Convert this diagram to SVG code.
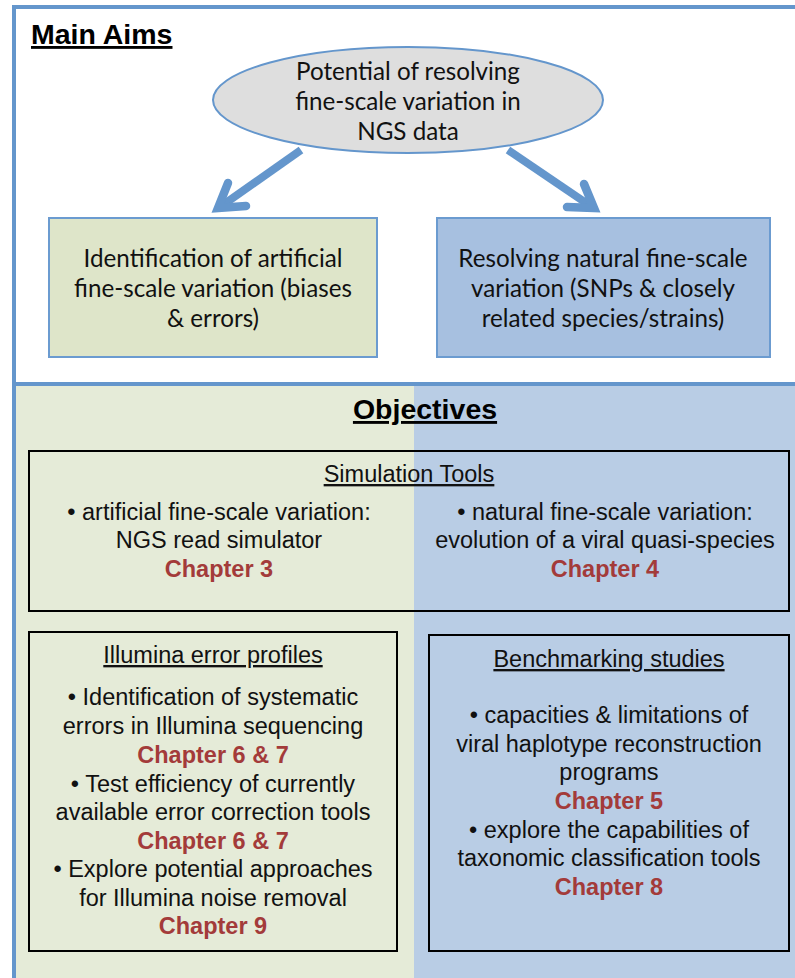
<svg xmlns="http://www.w3.org/2000/svg" width="795" height="978" viewBox="0 0 795 978">
<defs>
<style>
.cal{font-family:Lato,"Open Sans","Liberation Sans",sans-serif;font-size:24.2px;fill:#111;text-anchor:middle}
.ar{font-family:"Liberation Sans",Arial,sans-serif;font-size:23.5px;fill:#111;text-anchor:middle}
.ch{font-family:"Liberation Sans",Arial,sans-serif;font-size:23.5px;font-weight:bold;fill:#a33b3a;text-anchor:middle}
.hd{font-family:"Liberation Sans",Arial,sans-serif;font-size:28.5px;font-weight:bold;fill:#000;text-decoration:underline}
.sub{font-family:"Liberation Sans",Arial,sans-serif;font-size:23.5px;fill:#111;text-anchor:middle;text-decoration:underline}
.box{stroke:#000;stroke-width:2;fill:none}
.arrow{stroke:#6496cc;stroke-width:8;fill:none;stroke-linejoin:miter;stroke-miterlimit:10}
.head{stroke:#6496cc;stroke-width:8.5;fill:none;stroke-linejoin:miter;stroke-linecap:round;stroke-miterlimit:10}
</style>
</defs>
<g id="background">
<rect x="14" y="384" width="400" height="600" fill="#e5ebd8"/>
<rect x="414" y="384" width="385" height="600" fill="#b9cde5"/>
<line x1="12" y1="7" x2="795" y2="7" stroke="#6496cc" stroke-width="4"/>
<line x1="14" y1="5" x2="14" y2="978" stroke="#6496cc" stroke-width="4"/>
<line x1="12" y1="384" x2="795" y2="384" stroke="#6496cc" stroke-width="4"/>
<text class="hd" x="31" y="44">Main Aims</text>
<text class="hd" x="425" y="419" text-anchor="middle">Objectives</text>
</g>
<g id="connectors">
<path class="arrow" d="M301,150 L220,207"/>
<path class="head" d="M228,183 L218,208 L246,206"/>
<path class="arrow" d="M508,150 L592,207"/>
<path class="head" d="M584,184 L594,208 L567,207"/>
</g>
<g id="aim-root">
<ellipse cx="408" cy="100" rx="195" ry="53" fill="#dedede" stroke="#6496cc" stroke-width="2"/>
<text class="cal" x="408" y="80">Potential of resolving</text>
<text class="cal" x="408" y="110">fine-scale variation in</text>
<text class="cal" x="408" y="140">NGS data</text>
</g>
<g id="aim-artificial">
<rect x="49" y="218" width="328" height="139" fill="#dee5c9" stroke="#6b9bd0" stroke-width="2"/>
<text class="cal" x="213" y="267">Identification of artificial</text>
<text class="cal" x="213" y="297">fine-scale variation (biases</text>
<text class="cal" x="213" y="327">&amp; errors)</text>
</g>
<g id="aim-natural">
<rect x="437" y="218" width="333" height="139" fill="#a7c0e0" stroke="#6b9bd0" stroke-width="2"/>
<text class="cal" x="603" y="267">Resolving natural fine-scale</text>
<text class="cal" x="603" y="297">variation (SNPs &amp; closely</text>
<text class="cal" x="603" y="327">related species/strains)</text>
</g>
<g id="simulation-tools">
<rect class="box" x="29" y="451" width="760" height="160"/>
<text class="sub" x="409" y="482">Simulation Tools</text>
<text class="ar" x="219" y="520">• artificial fine-scale variation:</text>
<text class="ar" x="219" y="548">NGS read simulator</text>
<text class="ch" x="219" y="577">Chapter 3</text>
<text class="ar" x="605" y="520">• natural fine-scale variation:</text>
<text class="ar" x="605" y="548">evolution of a viral quasi-species</text>
<text class="ch" x="605" y="577">Chapter 4</text>
</g>
<g id="illumina">
<rect class="box" x="29" y="632" width="368" height="319"/>
<text class="sub" x="213" y="663">Illumina error profiles</text>
<text class="ar" x="213" y="705">• Identification of systematic</text>
<text class="ar" x="213" y="734">errors in Illumina sequencing</text>
<text class="ch" x="213" y="763">Chapter 6 &amp; 7</text>
<text class="ar" x="213" y="792">• Test efficiency of currently</text>
<text class="ar" x="213" y="820">available error correction tools</text>
<text class="ch" x="213" y="849">Chapter 6 &amp; 7</text>
<text class="ar" x="213" y="877">• Explore potential approaches</text>
<text class="ar" x="213" y="906">for Illumina noise removal</text>
<text class="ch" x="213" y="934">Chapter 9</text>
</g>
<g id="benchmarking">
<rect class="box" x="429" y="635" width="360" height="316"/>
<text class="sub" x="609" y="667">Benchmarking studies</text>
<text class="ar" x="609" y="723">• capacities &amp; limitations of</text>
<text class="ar" x="609" y="752">viral haplotype reconstruction</text>
<text class="ar" x="609" y="780">programs</text>
<text class="ch" x="609" y="809">Chapter 5</text>
<text class="ar" x="609" y="838">• explore the capabilities of</text>
<text class="ar" x="609" y="866">taxonomic classification tools</text>
<text class="ch" x="609" y="895">Chapter 8</text>
</g>
</svg>
